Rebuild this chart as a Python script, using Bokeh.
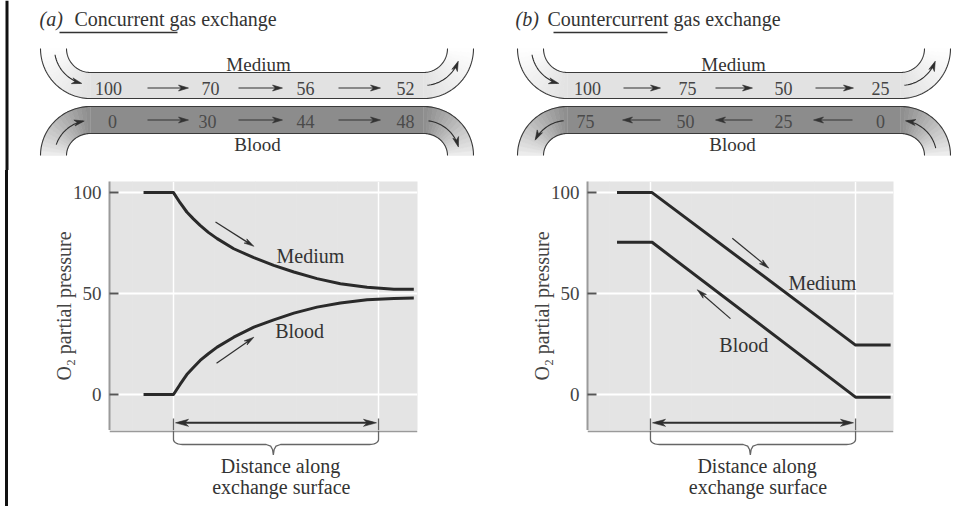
import numpy as np
from bokeh.plotting import figure
from bokeh.layouts import row, column
from bokeh.models import Range1d, FixedTicker, Spacer, Grid
from bokeh.core.properties import value
from bokeh.embed import file_html
from bokeh.resources import INLINE

FONT = "Liberation Serif"
INK = "#2e2e2e"

# ---------------- data ----------------
flow_labels = ["Medium", "Blood"]
conc_medium_values = [100, 70, 56, 52]
conc_blood_values = [0, 30, 44, 48]
ctr_medium_values = [100, 75, 50, 25]
ctr_blood_values = [75, 50, 25, 0]

conc_distance = [-0.146, 0.0, 0.032, 0.065, 0.097, 0.13, 0.17, 0.213, 0.294, 0.392, 0.489, 0.587, 0.70,
                 0.814, 0.944, 1.075, 1.172]
conc_medium_po2 = [100, 100, 95.0, 90.4, 87.0, 83.8, 80.3, 77.2, 72.2, 67.8, 64.0, 60.7, 57.4,
                   54.9, 53.1, 52.2, 52.1]
conc_blood_po2 = [0, 0, 5.0, 9.9, 13.4, 16.9, 20.2, 23.5, 28.4, 33.4, 37.0, 40.3, 43.3,
                  45.3, 46.9, 47.6, 47.8]

ctr_distance = [-0.163, 0.008, 1.0, 1.171]
ctr_medium_po2 = [100, 100, 24.5, 24.5]
ctr_blood_po2 = [75.4, 75.4, -1.3, -1.3]

po2_ticks = [0, 50, 100]
surface_bounds = [0, 1]
y_label = "O\u2082 partial pressure"
x_label_lines = ["Distance along", "exchange surface"]
titles = [("(a)", "Concurrent gas exchange"), ("(b)", "Countercurrent gas exchange")]


def gray(v):
    v = int(round(max(0, min(255, v))))
    return "#%02x%02x%02x" % (v, v, v)


def arrow_head(p, tip, back, length=9, width=6, sx=1.0, sy=1.0, color=INK):
    dx = (tip[0] - back[0]) * sx
    dy = (tip[1] - back[1]) * sy
    n = np.hypot(dx, dy)
    ux, uy = dx / n, dy / n
    nx, ny = -uy, ux
    pts = [(0, 0),
           (-length * ux + width / 2 * nx, -length * uy + width / 2 * ny),
           (-0.72 * length * ux, -0.72 * length * uy),
           (-length * ux - width / 2 * nx, -length * uy - width / 2 * ny)]
    xs = [tip[0] + a / sx for a, b in pts]
    ys = [tip[1] + b / sy for a, b in pts]
    p.patch(xs, ys, fill_color=color, line_color=color, line_width=0.6)


def line_arrow(p, xs, ys, length=9, width=6, lw=1.1, sx=1.0, sy=1.0, color=INK):
    xs = list(xs)
    ys = list(ys)
    tip = (xs[-1], ys[-1])
    back = (xs[-2], ys[-2])
    dx = (tip[0] - back[0]) * sx
    dy = (tip[1] - back[1]) * sy
    n = np.hypot(dx, dy)
    cut = 0.6 * length
    end = (tip[0] - dx / n * cut / sx, tip[1] - dy / n * cut / sy)
    p.line(xs[:-1] + [end[0]], ys[:-1] + [end[1]], line_color=color, line_width=lw)
    arrow_head(p, tip, back, length, width, sx, sy, color)


def draw_tube(p, cxL, cxR, cy, s, rxo, ryo, rxi, ryi, y_a, y_b, fill, end):
    p.quad(left=cxL, right=cxR, top=y_a, bottom=y_b, fill_color=gray(fill), line_color=None)
    n = 16
    for side in (-1, 1):
        cx = cxL if side < 0 else cxR
        xs_list, ys_list, cols = [], [], []
        for i in range(n):
            t0 = np.radians(90.0 * i / n)
            t1 = np.radians(90.0 * (i + 1) / n)
            xo0, yo0 = cx + side * rxo * np.cos(t0), cy + s * ryo * np.sin(t0)
            xo1, yo1 = cx + side * rxo * np.cos(t1), cy + s * ryo * np.sin(t1)
            xi0, yi0 = cx + side * rxi * np.cos(t0), cy + s * ryi * np.sin(t0)
            xi1, yi1 = cx + side * rxi * np.cos(t1), cy + s * ryi * np.sin(t1)
            xs_list.append([xo0, xo1, xi1, xi0])
            ys_list.append([yo0, yo1, yi1, yi0])
            frac = (i + 0.5) / n
            cols.append(gray(end + (fill - end) * frac ** 0.9))
        p.patches(xs_list, ys_list, fill_color=cols, line_color=cols, line_width=0.6)
    t = np.radians(np.linspace(0, 90, 40))
    for rx, ry in ((rxo, ryo), (rxi, ryi)):
        xl = cxL - rx * np.cos(t)
        yl = cy + s * ry * np.sin(t)
        xr = cxR + rx * np.cos(t[::-1])
        yr = cy + s * ry * np.sin(t[::-1])
        p.line(list(xl) + list(xr), list(yl) + list(yr), line_color="#3a3a3a", line_width=1.1)


def tube_diagram(p, ox, tag, title, tag_x, title_x, ul, med_vals, med_x, blood_vals, blood_x,
                 med_spans, blood_spans, blood_forward, label_x):
    cxL, cxR = ox + 90, ox + 423
    draw_tube(p, cxL, cxR, 48, 1, 50, 50, 24, 24, 72, 98, 226, 255)
    draw_tube(p, cxL, cxR, 155, -1, 50, 49, 24, 22, 106, 133, 140, 240)

    t = np.radians(np.linspace(10, 76, 24))
    line_arrow(p, cxL - 36 * np.cos(t), 48 + 36 * np.sin(t), 10, 6)
    t = np.radians(np.linspace(84, 20, 24))
    line_arrow(p, cxR + 37 * np.cos(t), 48 + 37 * np.sin(t), 10, 6)
    if blood_forward:
        t = np.radians(np.linspace(18, 80, 24))
        line_arrow(p, cxL - 36 * np.cos(t), 155 - 35 * np.sin(t), 10, 6)
        t = np.radians(np.linspace(82, 14, 24))
        line_arrow(p, cxR + 36 * np.cos(t), 155 - 35 * np.sin(t), 10, 6)
    else:
        t = np.radians(np.linspace(84, 26, 24))
        line_arrow(p, cxL - 36 * np.cos(t), 155 - 35 * np.sin(t), 10, 6)
        t = np.radians(np.linspace(12, 82, 24))
        line_arrow(p, cxR + 36 * np.cos(t), 155 - 35 * np.sin(t), 10, 6)

    for a, b in med_spans:
        line_arrow(p, [a, b], [87.5, 87.5], 10, 6, lw=1.1)
    for a, b in blood_spans:
        if blood_forward:
            line_arrow(p, [a, b], [119.5, 119.5], 10, 6, lw=1.1, color="#333333")
        else:
            line_arrow(p, [b, a], [119.5, 119.5], 10, 6, lw=1.1, color="#333333")

    p.text(x=med_x, y=[87.5] * 4, text=[str(v) for v in med_vals], text_font=value(FONT),
           text_font_size="18px", text_align="center", text_baseline="middle", text_color="#444444")
    p.text(x=blood_x, y=[120.5] * 4, text=[str(v) for v in blood_vals], text_font=value(FONT),
           text_font_size="18px", text_align="center", text_baseline="middle", text_color="#4a4a4a")
    p.text(x=[label_x, label_x - 1], y=[63.5, 143.5], text=flow_labels, text_font=value(FONT),
           text_font_size="19px", text_align="center", text_baseline="middle", text_color="#333333")

    p.text(x=[tag_x], y=[18], text=[tag], text_font=value(FONT), text_font_style=value("italic"),
           text_font_size="20px", text_align="left", text_baseline="middle", text_color="#333333")
    p.text(x=[title_x], y=[18], text=[title], text_font=value(FONT),
           text_font_size="20px", text_align="left", text_baseline="middle", text_color="#333333")
    p.line([ul[0], ul[1]], [32, 32], line_color="#333333", line_width=1.6)


def plot_panel(width, x_start, x_end, left_border, frame_w, dist, med, blood, label_pos, arrows):
    p = figure(width=width, height=260, x_range=Range1d(x_start, x_end), y_range=Range1d(-17.8, 105.5),
               output_backend="svg", toolbar_location=None, x_axis_location=None,
               min_border_left=left_border, min_border_right=width - left_border - frame_w,
               min_border_top=11, min_border_bottom=0,
               background_fill_color="#e4e4e4", border_fill_color="white", outline_line_color=None)
    sx = frame_w / (x_end - x_start)
    sy = 249.0 / (105.5 + 17.8)
    ax = p.yaxis[0]
    ax.ticker = FixedTicker(ticks=po2_ticks)
    ax.major_tick_in = 9
    ax.major_tick_out = 0
    ax.minor_tick_in = 0
    ax.minor_tick_out = 0
    ax.major_tick_line_color = "#555555"
    ax.major_tick_line_width = 2
    ax.axis_line_color = "#9a9a9a"
    ax.axis_line_width = 2
    ax.major_label_standoff = 8
    ax.major_label_text_font = FONT
    ax.major_label_text_font_size = "19px"
    ax.major_label_text_color = "#444444"
    ax.axis_label = y_label
    ax.axis_label_text_font = FONT
    ax.axis_label_text_font_size = "20px"
    ax.axis_label_text_font_style = "normal"
    ax.axis_label_text_color = "#444444"
    ax.axis_label_standoff = -5
    p.ygrid.grid_line_color = "white"
    p.ygrid.grid_line_width = 2
    p.add_layout(Grid(dimension=0, ticker=FixedTicker(ticks=surface_bounds),
                      grid_line_color="white", grid_line_width=1.5))

    p.line(dist, med, line_color="#2a2a2a", line_width=3, line_join="round")
    p.line(dist, blood, line_color="#2a2a2a", line_width=3, line_join="round")

    p.text(x=[label_pos[0][0], label_pos[1][0]], y=[label_pos[0][1], label_pos[1][1]], text=flow_labels,
           text_font=value(FONT), text_font_size="20px", text_align="center", text_baseline="middle",
           text_color="#333333")
    for (xa, ya), (xb, yb) in arrows:
        line_arrow(p, [xa, xb], [ya, yb], 10, 5, lw=1.2, sx=sx, sy=sy)

    y_arr = -14.0
    p.line([0.03, 0.97], [y_arr, y_arr], line_color=INK, line_width=2)
    arrow_head(p, (0.01, y_arr), (0.5, y_arr), 13, 7, sx, sy)
    arrow_head(p, (0.99, y_arr), (0.5, y_arr), 13, 7, sx, sy)
    p.segment(x0=surface_bounds, y0=[-11.9] * 2, x1=surface_bounds, y1=[-17.8] * 2,
              line_color="#666666", line_width=1.3)
    return p


def bottom_panel(width, xr, left_border, frame_w, tip, text_x):
    b = figure(width=width, height=76, x_range=xr, y_range=Range1d(76, 0),
               output_backend="svg", toolbar_location=None, x_axis_location=None, y_axis_location=None,
               min_border_left=left_border, min_border_right=width - left_border - frame_w,
               min_border_top=0, min_border_bottom=0, outline_line_color=None)
    b.grid.visible = False
    b.line([xr.start, xr.end], [0.8, 0.8], line_color="#9a9a9a", line_width=2)
    dx = 9.0 / 205.0
    t = np.radians(np.linspace(0, 90, 10))
    xs = [0.0, 0.0] + list(dx - dx * np.cos(t))
    ys = [0.0, 9.0] + list(9 + 5 * np.sin(t))
    xs += [tip - 0.035, tip - 0.013, tip - 0.004, tip, tip + 0.004, tip + 0.013, tip + 0.035]
    ys += [14.0, 15.6, 19.0, 24.5, 19.0, 15.6, 14.0]
    xs += list(1 - dx + dx * np.cos(t[::-1])) + [1.0]
    ys += list(9 + 5 * np.sin(t[::-1])) + [0.0]
    b.line(xs, ys, line_color="#666666", line_width=1.3)
    b.text(x=[text_x, text_x + 0.004], y=[35.5, 56.0], text=x_label_lines, text_font=value(FONT),
           text_font_size="20px", text_align="center", text_baseline="middle", text_color="#333333")
    return b


# ---------------- top: both tube diagrams in one figure ----------------
top = figure(width=952, height=170, x_range=Range1d(0, 952), y_range=Range1d(170, 0),
             output_backend="svg", toolbar_location=None, min_border=0,
             x_axis_location=None, y_axis_location=None, outline_line_color=None)
top.grid.visible = False
top.quad(left=5, right=8, top=0, bottom=170, fill_color="#111111", line_color=None)
tube_diagram(top, 0, titles[0][0], titles[0][1], 39, 74, (59, 177),
             conc_medium_values, [108, 210, 305, 405], conc_blood_values, [112, 207, 305, 405],
             [(147, 188), (238, 282), (338, 380)], [(147, 188), (238, 282), (338, 380)],
             True, 258)
tube_diagram(top, 477, titles[1][0], titles[1][1], 515, 547, (553, 667),
             ctr_medium_values, [587, 687, 783, 880], ctr_blood_values, [585, 685, 783, 880],
             [(623, 660), (715, 752), (815, 853)], [(622, 660), (715, 752), (813, 852)],
             False, 733)

# ---------------- left plot (concurrent) ----------------
WA, WB = 470, 474
plotA = plot_panel(WA, -0.312, 1.190, 101, 308, conc_distance, conc_medium_po2, conc_blood_po2,
                   [(0.668, 68.4), (0.615, 31.4)],
                   [((0.205, 85.4), (0.392, 73.4)), ((0.21, 15.5), (0.392, 28.4))])
botA = bottom_panel(WA, plotA.x_range, 101, 308, 0.487, 0.522)

# ---------------- right plot (countercurrent) ----------------
plotB = plot_panel(WB, -0.307, 1.185, 109, 306, ctr_distance, ctr_medium_po2, ctr_blood_po2,
                   [(0.838, 55.3), (0.455, 24.6)],
                   [((0.399, 77.4), (0.577, 62.6)), ((0.390, 37.6), (0.228, 51.9))])
botB = bottom_panel(WB, plotB.x_range, 109, 306, 0.487, 0.52)

gap = Spacer(width=5, height=336)
edge = Spacer(width=3, height=336, styles={"background-color": "#111111"})
layout = column(top, row(gap, edge, column(plotA, botA), column(plotB, botB)))

open("out.html", "w").write(file_html(layout, INLINE))
